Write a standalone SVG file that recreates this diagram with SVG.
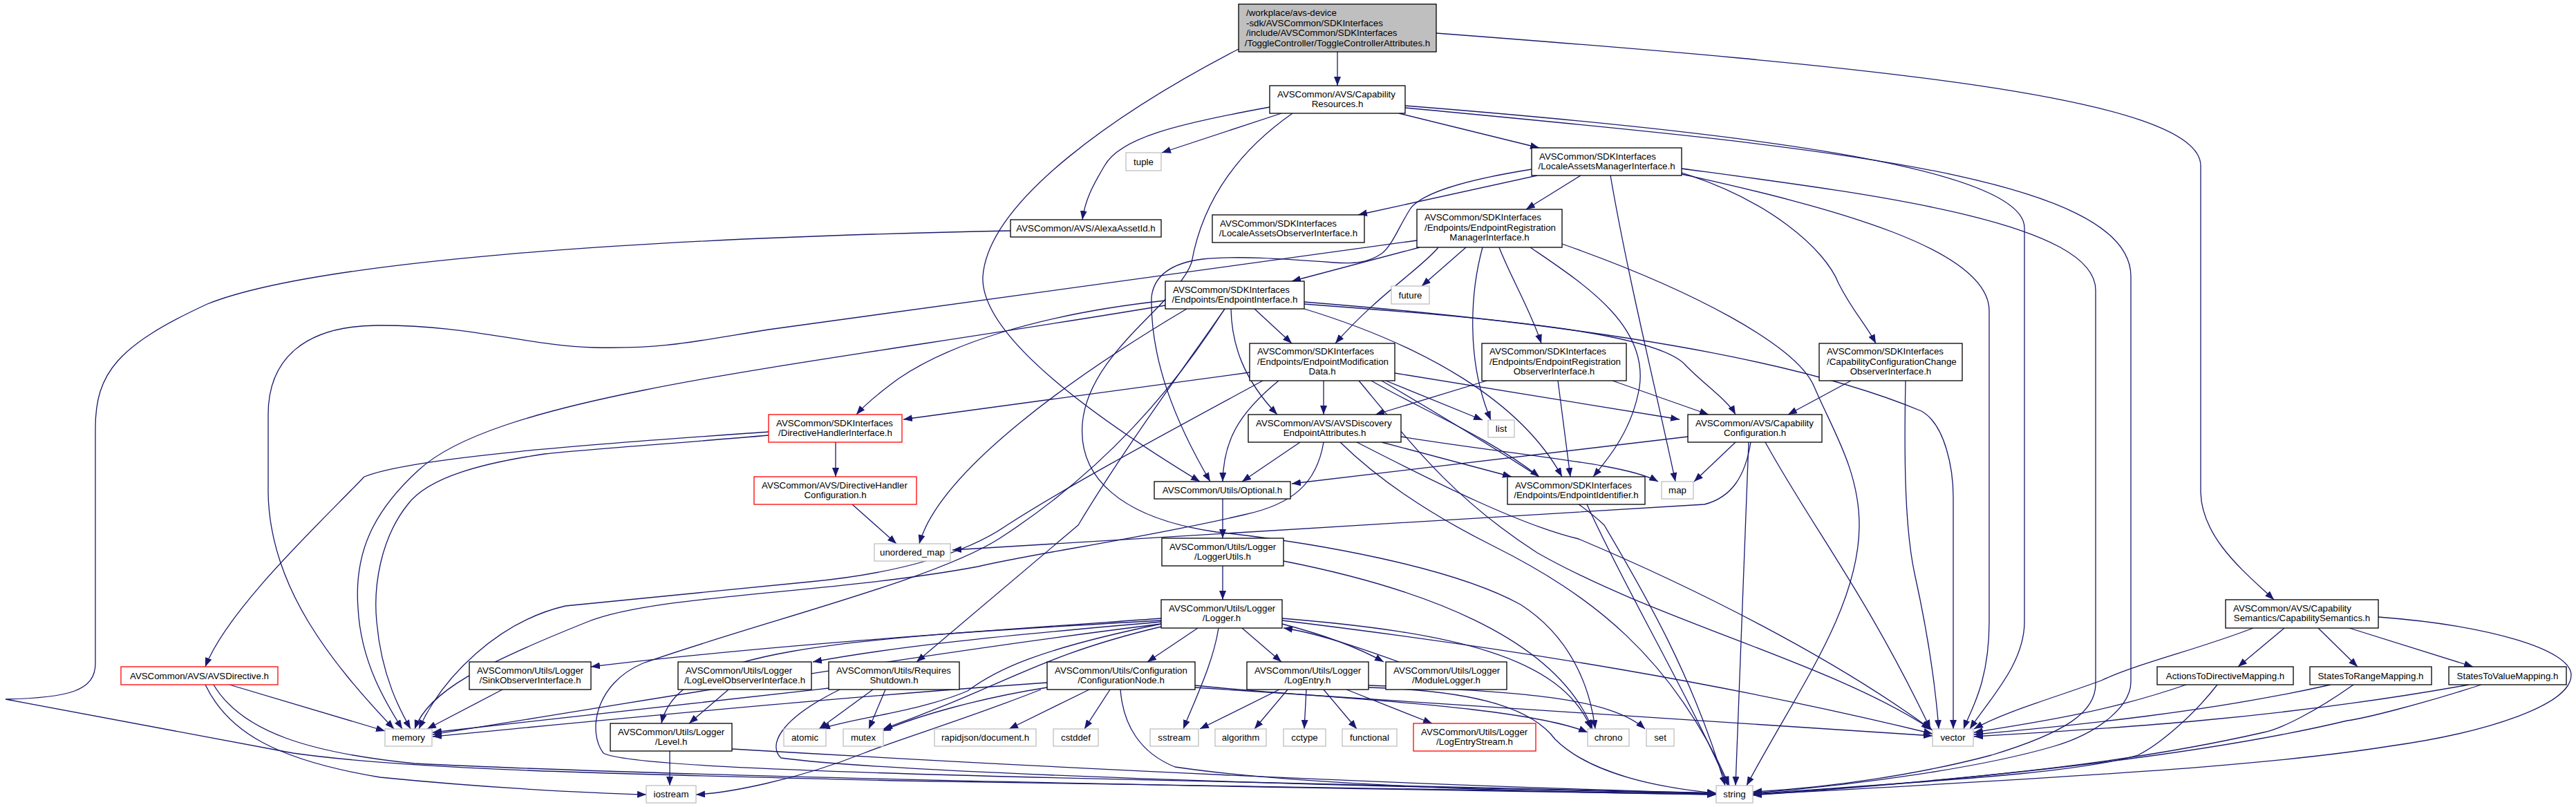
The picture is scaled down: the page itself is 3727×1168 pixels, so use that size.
<svg xmlns="http://www.w3.org/2000/svg" width="3727" height="1168" viewBox="0 0 3727 1168">
<style>
rect{fill:#fff;stroke:#000;stroke-width:1.3}
.g rect{stroke:#bfbfbf}
.r rect{stroke:#ff0000}
.root rect{fill:#bfbfbf}
text{font-family:"Liberation Sans",Arial,Helvetica,sans-serif;font-size:13.3px;fill:#000}
.c{text-anchor:middle}
#edges path{fill:none;stroke:#191970;stroke-width:1.3;marker-end:url(#a)}
</style>
<defs>
<marker id="a" viewBox="0 0 13 10" refX="13" refY="5" markerWidth="13" markerHeight="10" markerUnits="userSpaceOnUse" orient="auto"><path d="M0,0 L13,5 L0,10 z" fill="#191970"/></marker>
</defs>
<rect x="0" y="0" width="3727" height="1168" style="fill:#fff;stroke:none"/>
<g id="edges">
<path d="M1935,75 L1935,124"/>
<path d="M1792,71 C1620,160 1430,290 1422,400 C1418,480 1560,590 1736,697"/>
<path d="M2078,48 C2700,95 3184,140 3184,240 L3184,713 C3186,780 3250,830 3290,868"/>
<path d="M1854,164 L1681,221"/>
<path d="M1837,155 C1700,180 1620,200 1598,240 C1580,270 1570,290 1566,318"/>
<path d="M2024,164 L2227,214"/>
<path d="M1870,164 C1790,220 1740,290 1724,380 C1703,440 1575,510 1566,613 C1560,690 1620,750 1760,770 C1900,785 2100,820 2200,875 C2270,920 2300,990 2308,1055"/>
<path d="M2216,245 C2110,262 2060,280 2042,300 C2025,325 2015,355 1999,367 C1980,380 1960,382 1930,380 C1850,374 1790,370 1740,375 C1700,380 1670,395 1666,430 C1664,520 1700,610 1751,697"/>
<path d="M2033,153 C2500,190 2929,240 2929,330 L2929,900 C2929,960 2880,1010 2850,1055"/>
<path d="M2033,156 C2600,210 3083,250 3083,400 L3083,987 C3083,1020 3040,1060 2972,1080 C2870,1110 2700,1135 2536,1148"/>
<path d="M1462,334 C900,345 450,380 300,440 C170,500 138,540 138,620 L138,960 C138,1000 100,1010 8,1012 L424,1090 C600,1115 900,1120 1300,1130 L2483,1149"/>
<path d="M2224,254 L1965,311"/>
<path d="M2287,254 L2208,303"/>
<path d="M2433,250 C2560,290 2640,360 2660,410 C2680,450 2700,470 2714,497"/>
<path d="M2330,254 C2355,400 2395,560 2424,697"/>
<path d="M2433,252 C2650,300 2878,360 2878,450 L2878,900 C2878,990 2850,1030 2841,1055"/>
<path d="M2433,244 C2700,280 3032,320 3032,420 L3032,990 C3032,1030 2990,1060 2881,1093 C2780,1120 2650,1140 2536,1146"/>
<path d="M2054,358 L1869,407"/>
<path d="M2050,348 L1112,477 C1000,495 960,505 860,503 C760,500 680,470 545,471 C440,472 388,520 388,600 L388,713 C390,850 480,960 570,1055"/>
<path d="M2081,358 C2060,385 1990,430 1932,497"/>
<path d="M2121,358 L2057,414"/>
<path d="M2145,358 C2128,420 2120,520 2157,608"/>
<path d="M2169,358 C2185,400 2215,450 2230,497"/>
<path d="M2214,358 C2290,410 2385,470 2372,560 C2362,620 2330,660 2305,690"/>
<path d="M2260,353 C2450,420 2600,500 2625,560 C2650,620 2690,680 2690,760 C2690,880 2600,1000 2527,1137"/>
<path d="M1686,435 C1500,455 1370,500 1300,548 C1270,570 1252,585 1239,600"/>
<path d="M1815,447 L1869,497"/>
<path d="M1781,447 C1782,500 1800,550 1848,600"/>
<path d="M1686,442 C1400,490 1100,530 930,565 C780,595 660,630 606,680 C540,740 512,800 518,880 C522,960 560,1020 582,1055"/>
<path d="M1717,447 C1560,540 1360,680 1330,787"/>
<path d="M1887,440 C2150,460 2400,480 2440,530 C2470,560 2500,580 2511,600"/>
<path d="M1887,437 C2300,470 2600,520 2780,595 C2815,615 2826,680 2826,720 L2826,1055"/>
<path d="M2757,551 C2755,650 2755,760 2770,830 C2790,920 2800,990 2805,1055"/>
<path d="M1887,447 C2060,500 2200,580 2260,690"/>
<path d="M1772,447 C1700,550 1620,660 1560,760 L1326,958"/>
<path d="M1827,551 C1700,620 1550,700 1457,760 C1400,800 1300,830 1172,842 C1000,858 900,870 818,877 C720,900 640,980 606,1055"/>
<path d="M1808,539 L1307,607"/>
<path d="M1915,551 L1915,600"/>
<path d="M2005,551 L2145,608"/>
<path d="M2018,540 L2430,607"/>
<path d="M1984,551 C2050,590 2150,630 2227,690"/>
<path d="M1850,551 C1790,600 1770,640 1769,697"/>
<path d="M1966,551 C2040,640 2100,720 2224,800 C2400,900 2650,960 2793,1055"/>
<path d="M1939,640 C2000,700 2080,750 2160,790 C2300,860 2420,950 2502,1137"/>
<path d="M1963,640 C2080,700 2200,760 2284,780 C2450,850 2650,950 2796,1057"/>
<path d="M1999,551 C2150,640 2280,720 2321,760 C2380,860 2450,980 2496,1137"/>
<path d="M2296,730 C2350,850 2440,1000 2500,1137"/>
<path d="M1999,640 L2187,690"/>
<path d="M2027,632 C2200,660 2350,670 2399,697"/>
<path d="M1881,640 L1797,697"/>
<path d="M1915,640 C1905,700 1870,730 1800,745 C1650,780 1500,800 1415,820 C1200,860 950,860 850,900 C700,960 620,1000 600,1055"/>
<path d="M2151,551 L1990,600"/>
<path d="M2254,551 L2272,690"/>
<path d="M2333,551 L2472,600"/>
<path d="M2678,551 L2587,600"/>
<path d="M2442,632 L1869,700"/>
<path d="M2511,640 L2451,697"/>
<path d="M2533,640 C2525,690 2505,720 2466,730 L1378,796"/>
<path d="M2530,640 L2511,1137"/>
<path d="M2554,640 C2620,760 2700,860 2793,1055"/>
<path d="M1209,640 L1209,690"/>
<path d="M1112,625 C900,640 600,660 527,690 C470,750 330,880 297,965"/>
<path d="M1112,630 C1000,640 850,650 788,657 C700,670 620,690 590,730 C550,780 540,850 545,900 C552,980 580,1030 594,1055"/>
<path d="M1233,730 L1297,787"/>
<path d="M332,991 L557,1058"/>
<path d="M309,991 C350,1060 450,1090 600,1105 C900,1120 1500,1135 2483,1150"/>
<path d="M297,991 C330,1060 400,1100 550,1125 C700,1140 850,1148 935,1150"/>
<path d="M1769,722 L1769,779"/>
<path d="M1769,819 L1769,868"/>
<path d="M1857,812 C2050,850 2250,920 2304,1055"/>
<path d="M1680,895 C1400,915 1100,935 855,965"/>
<path d="M1680,900 C1450,920 1300,935 1176,958"/>
<path d="M1680,898 C1200,925 980,940 957,1047"/>
<path d="M1680,903 C1300,950 900,1020 626,1063"/>
<path d="M1680,903 C1500,940 1440,970 1400,1000 C1330,1030 1230,1040 1188,1055"/>
<path d="M1680,907 C1500,950 1460,990 1278,1055"/>
<path d="M1733,909 L1660,958"/>
<path d="M1763,909 C1755,960 1730,1010 1712,1055"/>
<path d="M1797,909 L1854,958"/>
<path d="M1855,903 C1920,920 1970,940 2002,958"/>
<path d="M2024,958 C1960,935 1900,915 1857,909"/>
<path d="M1855,895 C2100,915 2260,950 2302,1055"/>
<path d="M1855,898 C2200,940 2500,990 2796,1062"/>
<path d="M1576,998 L1460,1055"/>
<path d="M1606,998 L1569,1055"/>
<path d="M1506,998 C1400,1040 1300,1070 1250,1090 C1150,1130 1050,1148 1007,1150"/>
<path d="M1515,988 C1200,1010 900,1040 626,1066"/>
<path d="M1515,995 C1420,1010 1330,1035 1276,1058"/>
<path d="M1621,998 C1625,1050 1650,1090 1700,1110 C1900,1140 2300,1148 2483,1150"/>
<path d="M1729,992 C1900,1010 2200,1020 2297,1060"/>
<path d="M1729,995 C2100,1020 2500,1045 2796,1065"/>
<path d="M1851,998 L1736,1055"/>
<path d="M1863,998 L1815,1055"/>
<path d="M1890,998 L1887,1055"/>
<path d="M1915,998 L1963,1055"/>
<path d="M1948,998 L2072,1047"/>
<path d="M1980,995 C2150,1000 2220,1030 2250,1070 C2300,1120 2400,1140 2483,1148"/>
<path d="M1980,992 C2200,1000 2330,1010 2380,1055"/>
<path d="M969,1087 L969,1137"/>
<path d="M1059,1084 C1500,1110 2000,1135 2483,1148"/>
<path d="M1054,998 L997,1047"/>
<path d="M727,998 L618,1055"/>
<path d="M1263,998 L1185,1055"/>
<path d="M1281,998 L1257,1055"/>
<path d="M1215,998 C1124,1043 1112,1080 1130,1097 C1300,1120 2000,1140 2483,1148"/>
<path d="M1199,996 C1000,1020 800,1040 626,1060"/>
<path d="M1772,447 C1700,560 1600,680 1445,780 C1350,840 1100,900 930,960 C860,990 850,1060 873,1090 C900,1105 1100,1115 1500,1125 L2483,1148"/>
<path d="M3305,909 L3238,965"/>
<path d="M3354,909 L3411,965"/>
<path d="M3399,909 L3578,965"/>
<path d="M3260,909 C3180,940 3093,960 3040,985 C2972,1010 2900,1030 2856,1055"/>
<path d="M3441,893 C3600,905 3720,940 3720,977 C3720,1020 3600,1060 3457,1080 C3300,1105 3093,1120 2536,1150"/>
<path d="M3163,991 C3050,1030 2950,1045 2856,1060"/>
<path d="M3208,991 C3170,1040 3120,1080 3093,1093 C3000,1120 2800,1130 2536,1149"/>
<path d="M3372,991 C3200,1030 3000,1050 2856,1063"/>
<path d="M3405,991 C3350,1030 3300,1055 3275,1060 C3100,1100 2900,1125 2536,1150"/>
<path d="M3572,991 C3300,1040 3050,1055 2856,1066"/>
<path d="M3590,991 C3500,1020 3420,1040 3396,1043 C3200,1090 2900,1125 2536,1151"/>
</g>
<g id="n1" class="root"><rect x="1792" y="6" width="286" height="69"/><text x="1803" y="22.5">/workplace/avs-device</text><text x="1803" y="37.5">-sdk/AVSCommon/SDKInterfaces</text><text x="1803" y="51.5">/include/AVSCommon/SDKInterfaces</text><text x="1935" y="66.5" class="c">/ToggleController/ToggleControllerAttributes.h</text></g>
<g id="n2"><rect x="1837" y="124" width="196" height="40"/><text x="1848" y="140.5">AVSCommon/AVS/Capability</text><text x="1935" y="154.5" class="c">Resources.h</text></g>
<g id="n3" class="g"><rect x="1629" y="221" width="51" height="26"/><text x="1654.5" y="238.5" class="c">tuple</text></g>
<g id="n4"><rect x="1462" y="318" width="218" height="25"/><text x="1571" y="335" class="c">AVSCommon/AVS/AlexaAssetId.h</text></g>
<g id="n5"><rect x="2216" y="214" width="217" height="40"/><text x="2227" y="230.5">AVSCommon/SDKInterfaces</text><text x="2324.5" y="244.5" class="c">/LocaleAssetsManagerInterface.h</text></g>
<g id="n6"><rect x="1754" y="311" width="220" height="40"/><text x="1765" y="327.5">AVSCommon/SDKInterfaces</text><text x="1864" y="341.5" class="c">/LocaleAssetsObserverInterface.h</text></g>
<g id="n7"><rect x="2050" y="303" width="210" height="55"/><text x="2061" y="318.5">AVSCommon/SDKInterfaces</text><text x="2061" y="333.5">/Endpoints/EndpointRegistration</text><text x="2155" y="347.5" class="c">ManagerInterface.h</text></g>
<g id="n8"><rect x="1686" y="407" width="201" height="40"/><text x="1697" y="423.5">AVSCommon/SDKInterfaces</text><text x="1786.5" y="437.5" class="c">/Endpoints/EndpointInterface.h</text></g>
<g id="n9" class="g"><rect x="2013" y="414" width="55" height="26"/><text x="2040.5" y="431.5" class="c">future</text></g>
<g id="n10"><rect x="1808" y="497" width="210" height="54"/><text x="1819" y="512.5">AVSCommon/SDKInterfaces</text><text x="1819" y="527.5">/Endpoints/EndpointModification</text><text x="1913" y="541.5" class="c">Data.h</text></g>
<g id="n11"><rect x="2144" y="497" width="209" height="54"/><text x="2155" y="512.5">AVSCommon/SDKInterfaces</text><text x="2155" y="527.5">/Endpoints/EndpointRegistration</text><text x="2248.5" y="541.5" class="c">ObserverInterface.h</text></g>
<g id="n12"><rect x="2632" y="497" width="207" height="54"/><text x="2643" y="512.5">AVSCommon/SDKInterfaces</text><text x="2643" y="527.5">/CapabilityConfigurationChange</text><text x="2735.5" y="541.5" class="c">ObserverInterface.h</text></g>
<g id="n13" class="r"><rect x="1112" y="600" width="193" height="40"/><text x="1123" y="616.5">AVSCommon/SDKInterfaces</text><text x="1208.5" y="630.5" class="c">/DirectiveHandlerInterface.h</text></g>
<g id="n14"><rect x="1806" y="600" width="221" height="40"/><text x="1817" y="616.5">AVSCommon/AVS/AVSDiscovery</text><text x="1916.5" y="630.5" class="c">EndpointAttributes.h</text></g>
<g id="n15" class="g"><rect x="2153" y="608" width="38" height="25"/><text x="2172" y="625" class="c">list</text></g>
<g id="n16"><rect x="2442" y="600" width="194" height="40"/><text x="2453" y="616.5">AVSCommon/AVS/Capability</text><text x="2539" y="630.5" class="c">Configuration.h</text></g>
<g id="n17" class="r"><rect x="1091" y="690" width="235" height="40"/><text x="1102" y="706.5">AVSCommon/AVS/DirectiveHandler</text><text x="1208.5" y="720.5" class="c">Configuration.h</text></g>
<g id="n18"><rect x="1670" y="697" width="197" height="25"/><text x="1768.5" y="714" class="c">AVSCommon/Utils/Optional.h</text></g>
<g id="n19"><rect x="2181" y="690" width="199" height="40"/><text x="2192" y="706.5">AVSCommon/SDKInterfaces</text><text x="2280.5" y="720.5" class="c">/Endpoints/EndpointIdentifier.h</text></g>
<g id="n20" class="g"><rect x="2404" y="697" width="46" height="25"/><text x="2427" y="714" class="c">map</text></g>
<g id="n21" class="g"><rect x="1265" y="787" width="110" height="25"/><text x="1320" y="804" class="c">unordered_map</text></g>
<g id="n22"><rect x="1681" y="779" width="176" height="40"/><text x="1692" y="795.5">AVSCommon/Utils/Logger</text><text x="1769" y="809.5" class="c">/LoggerUtils.h</text></g>
<g id="n23"><rect x="1680" y="868" width="175" height="41"/><text x="1691" y="884.5">AVSCommon/Utils/Logger</text><text x="1767.5" y="898.5" class="c">/Logger.h</text></g>
<g id="n24"><rect x="3220" y="868" width="221" height="41"/><text x="3231" y="884.5">AVSCommon/AVS/Capability</text><text x="3330.5" y="898.5" class="c">Semantics/CapabilitySemantics.h</text></g>
<g id="n25" class="r"><rect x="175" y="965" width="227" height="26"/><text x="288.5" y="982.5" class="c">AVSCommon/AVS/AVSDirective.h</text></g>
<g id="n26"><rect x="679" y="958" width="176" height="40"/><text x="690" y="974.5">AVSCommon/Utils/Logger</text><text x="767" y="988.5" class="c">/SinkObserverInterface.h</text></g>
<g id="n27"><rect x="981" y="958" width="193" height="40"/><text x="992" y="974.5">AVSCommon/Utils/Logger</text><text x="1077.5" y="988.5" class="c">/LogLevelObserverInterface.h</text></g>
<g id="n28"><rect x="1199" y="958" width="189" height="40"/><text x="1210" y="974.5">AVSCommon/Utils/Requires</text><text x="1293.5" y="988.5" class="c">Shutdown.h</text></g>
<g id="n29"><rect x="1515" y="958" width="214" height="40"/><text x="1526" y="974.5">AVSCommon/Utils/Configuration</text><text x="1622" y="988.5" class="c">/ConfigurationNode.h</text></g>
<g id="n30"><rect x="1804" y="958" width="176" height="40"/><text x="1815" y="974.5">AVSCommon/Utils/Logger</text><text x="1892" y="988.5" class="c">/LogEntry.h</text></g>
<g id="n31"><rect x="2005" y="958" width="175" height="40"/><text x="2016" y="974.5">AVSCommon/Utils/Logger</text><text x="2092.5" y="988.5" class="c">/ModuleLogger.h</text></g>
<g id="n32"><rect x="3121" y="965" width="197" height="26"/><text x="3219.5" y="982.5" class="c">ActionsToDirectiveMapping.h</text></g>
<g id="n33"><rect x="3342" y="965" width="176" height="26"/><text x="3430" y="982.5" class="c">StatesToRangeMapping.h</text></g>
<g id="n34"><rect x="3543" y="965" width="170" height="26"/><text x="3628" y="982.5" class="c">StatesToValueMapping.h</text></g>
<g id="n35" class="g"><rect x="557" y="1055" width="68" height="25"/><text x="591" y="1072" class="c">memory</text></g>
<g id="n36"><rect x="883" y="1047" width="176" height="40"/><text x="894" y="1063.5">AVSCommon/Utils/Logger</text><text x="971" y="1077.5" class="c">/Level.h</text></g>
<g id="n37" class="g"><rect x="1134" y="1055" width="61" height="25"/><text x="1164.5" y="1072" class="c">atomic</text></g>
<g id="n38" class="g"><rect x="1220" y="1055" width="58" height="25"/><text x="1249" y="1072" class="c">mutex</text></g>
<g id="n39" class="g"><rect x="1352" y="1055" width="147" height="25"/><text x="1425.5" y="1072" class="c">rapidjson/document.h</text></g>
<g id="n40" class="g"><rect x="1524" y="1055" width="65" height="25"/><text x="1556.5" y="1072" class="c">cstddef</text></g>
<g id="n41" class="g"><rect x="1664" y="1055" width="70" height="25"/><text x="1699" y="1072" class="c">sstream</text></g>
<g id="n42" class="g"><rect x="1758" y="1055" width="74" height="25"/><text x="1795" y="1072" class="c">algorithm</text></g>
<g id="n43" class="g"><rect x="1857" y="1055" width="61" height="25"/><text x="1887.5" y="1072" class="c">cctype</text></g>
<g id="n44" class="g"><rect x="1942" y="1055" width="79" height="25"/><text x="1981.5" y="1072" class="c">functional</text></g>
<g id="n45" class="r"><rect x="2045" y="1047" width="177" height="40"/><text x="2056" y="1063.5">AVSCommon/Utils/Logger</text><text x="2133.5" y="1077.5" class="c">/LogEntryStream.h</text></g>
<g id="n46" class="g"><rect x="2297" y="1055" width="60" height="25"/><text x="2327" y="1072" class="c">chrono</text></g>
<g id="n47" class="g"><rect x="2382" y="1055" width="40" height="25"/><text x="2402" y="1072" class="c">set</text></g>
<g id="n48" class="g"><rect x="2796" y="1055" width="59" height="25"/><text x="2825.5" y="1072" class="c">vector</text></g>
<g id="n49" class="g"><rect x="935" y="1137" width="72" height="25"/><text x="971" y="1154" class="c">iostream</text></g>
<g id="n50" class="g"><rect x="2483" y="1137" width="53" height="25"/><text x="2509.5" y="1154" class="c">string</text></g>
</svg>
